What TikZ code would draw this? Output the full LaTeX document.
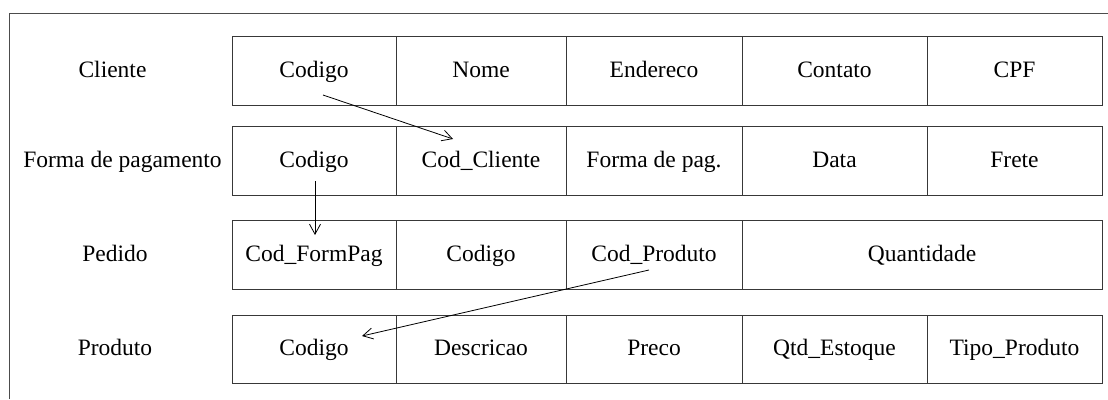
\documentclass[tikz,border=0pt]{standalone}
\usepackage{fontspec}
\setmainfont{Liberation Serif}
\usetikzlibrary{arrows.meta,calc}

\begin{document}
\begin{tikzpicture}[x=1pt,y=-1pt,
  txt/.style={font=\fontsize{23.5}{28}\selectfont, inner sep=0pt, outer sep=0pt,
    text height=17pt, text depth=4pt},
  cell/.style={txt, draw=black!78, line width=0.9pt, minimum height=69pt},
  rowlabel/.style={txt},
  frame/.style={draw=black!70, line width=1pt},
  link/.style={draw=black, line width=0.8pt, -{Straight Barb[length=10pt,width=11pt,line width=0.8pt]}}]

\useasboundingbox (0,0) rectangle (1108,399);

% outer frame (top and left edges)
\coordinate (fbl) at (9,399);
\coordinate (ftl) at (9,13);
\coordinate (ftr) at (1108,13);
\draw[frame] (fbl) -- (ftl) -- (ftr);

% table labels
\node[rowlabel] (lcli) at (112.5,70.5) {Cliente};
\node[rowlabel] (lfor) at (122.5,160.5) {Forma de pagamento};
\node[rowlabel] (lped) at (115,254.5) {Pedido};
\node[rowlabel] (lpro) at (115,349) {Produto};

% Cliente
\node[cell, minimum width=164pt] (c11) at (314,70.5) {Codigo};
\node[cell, minimum width=170pt] (c12) at (481,70.5) {Nome};
\node[cell, minimum width=176pt] (c13) at (654,70.5) {Endereco};
\node[cell, minimum width=185pt] (c14) at (834.5,70.5) {Contato};
\node[cell, minimum width=175pt] (c15) at (1014.5,70.5) {CPF};

% Forma de pagamento
\node[cell, minimum width=164pt] (c21) at (314,160.5) {Codigo};
\node[cell, minimum width=170pt] (c22) at (481,160.5) {Cod\_Cliente};
\node[cell, minimum width=176pt] (c23) at (654,160.5) {Forma de pag.};
\node[cell, minimum width=185pt] (c24) at (834.5,160.5) {Data};
\node[cell, minimum width=175pt] (c25) at (1014.5,160.5) {Frete};

% Pedido
\node[cell, minimum width=164pt] (c31) at (314,254.5) {Cod\_FormPag};
\node[cell, minimum width=170pt] (c32) at (481,254.5) {Codigo};
\node[cell, minimum width=176pt] (c33) at (654,254.5) {Cod\_Produto};
\node[cell, minimum width=360pt] (c34) at (922,254.5) {Quantidade};

% Produto
\node[cell, minimum width=164pt, minimum height=68pt] (c41) at (314,349) {Codigo};
\node[cell, minimum width=170pt, minimum height=68pt] (c42) at (481,349) {Descricao};
\node[cell, minimum width=176pt, minimum height=68pt] (c43) at (654,349) {Preco};
\node[cell, minimum width=185pt, minimum height=68pt] (c44) at (834.5,349) {Qtd\_Estoque};
\node[cell, minimum width=175pt, minimum height=68pt] (c45) at (1014.5,349) {Tipo\_Produto};

% key references
\draw[link] ($(c11)+(9,24.5)$) -- ($(c22)+(-28,-21.5)$);
\draw[link] ($(c21)+(1,20.5)$) -- ($(c31)+(1,-19.5)$);
\draw[link] ($(c33)+(-5,15.5)$) -- ($(c41)+(48,-13)$);

\end{tikzpicture}
\end{document}
